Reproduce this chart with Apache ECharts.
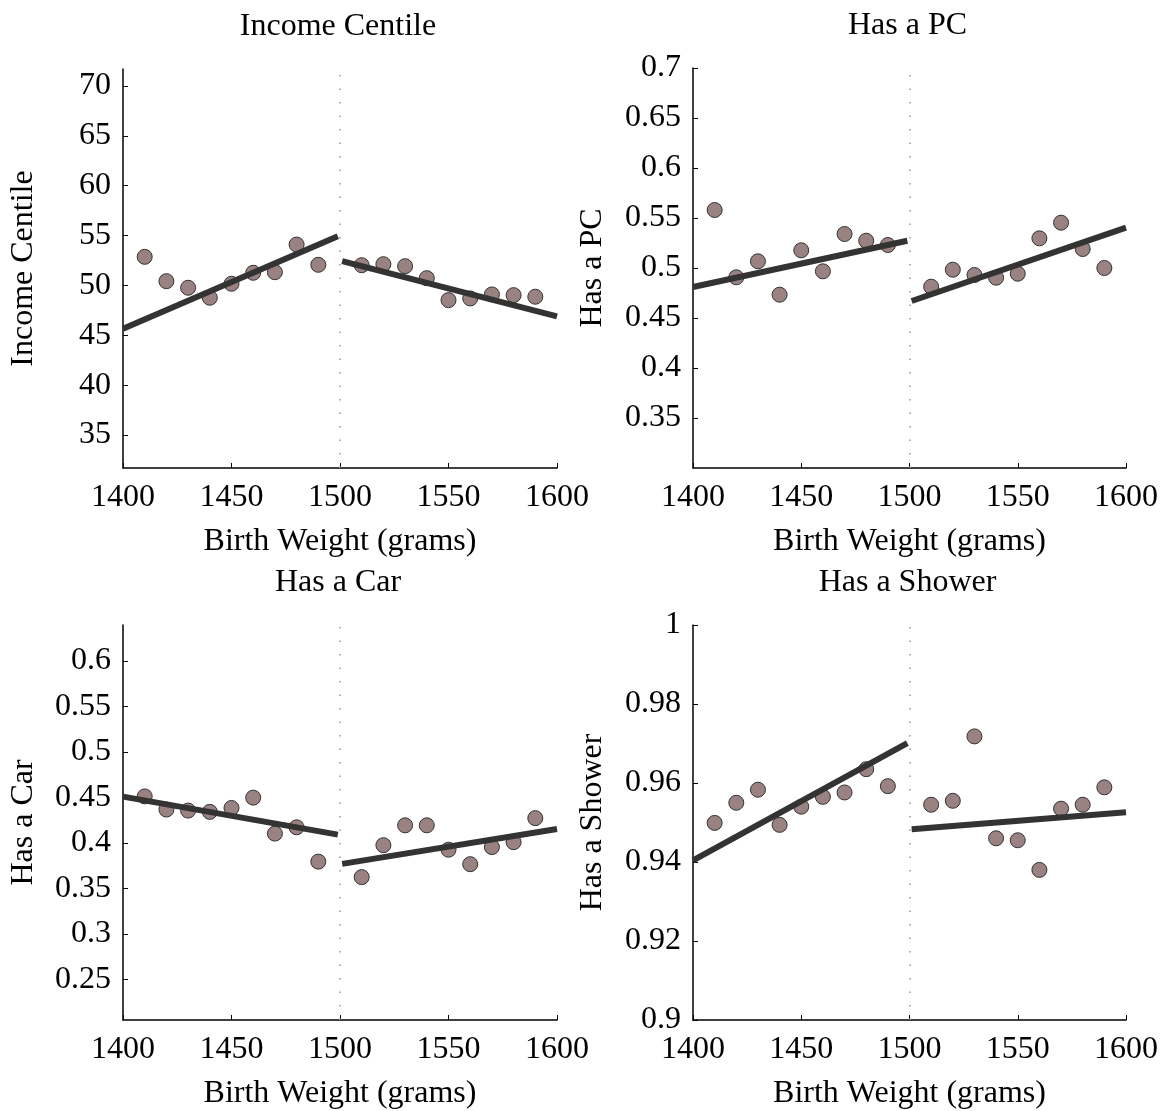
<!DOCTYPE html>
<html>
<head>
    <meta charset="UTF-8">
    <title>Birth Weight RD</title>
    <script src="https://cdn.jsdelivr.net/npm/echarts@6/dist/echarts.min.js"></script>
</head>
<body style="margin:0;background:#fff;">
<div id="main" style="width: 1163px;height:1111px;"></div>
<script type="text/javascript">
    // bins either side of the 1500 g cutoff
    var binsLeft = [1410, 1420, 1430, 1440, 1450, 1460, 1470, 1480, 1490];
    var binsRight = [1510, 1520, 1530, 1540, 1550, 1560, 1570, 1580, 1590];
    var fitXLeft = [1400, 1499];
    var fitXRight = [1501, 1600];

    // Income Centile
    var incomeLeft = [52.87, 50.43, 49.77, 48.77, 50.17, 51.27, 51.33, 54.1, 52.07];
    var incomeRight = [52.03, 52.13, 51.93, 50.73, 48.53, 48.7, 49.1, 49.03, 48.87];
    var incomeFitLeft = [45.67, 54.93];
    var incomeFitRight = [52.43, 46.9];
    var incomeTicks = [35, 40, 45, 50, 55, 60, 65, 70];

    // Has a PC
    var pcLeft = [0.558, 0.4907, 0.5067, 0.4733, 0.5177, 0.4967, 0.534, 0.5273, 0.523];
    var pcRight = [0.4813, 0.4983, 0.493, 0.4903, 0.4943, 0.5297, 0.5453, 0.519, 0.5];
    var pcFitLeft = [0.481, 0.5273];
    var pcFitRight = [0.467, 0.5403];
    var pcTicks = [0.35, 0.4, 0.45, 0.5, 0.55, 0.6, 0.65, 0.7];

    // Has a Car
    var carLeft = [0.4512, 0.4367, 0.4356, 0.4342, 0.4385, 0.4498, 0.4103, 0.4172, 0.3795];
    var carRight = [0.3625, 0.3976, 0.4194, 0.4194, 0.3926, 0.3767, 0.3955, 0.4009, 0.4273];
    var carFitLeft = [0.4509, 0.4092];
    var carFitRight = [0.377, 0.4154];
    var carTicks = [0.25, 0.3, 0.35, 0.4, 0.45, 0.5, 0.55, 0.6];

    // Has a Shower
    var showerLeft = [0.9499, 0.955, 0.9583, 0.9494, 0.954, 0.9565, 0.9576, 0.9635, 0.9592];
    var showerRight = [0.9545, 0.9555, 0.9718, 0.946, 0.9455, 0.938, 0.9535, 0.9545, 0.9589];
    var showerFitLeft = [0.9404, 0.9701];
    var showerFitRight = [0.9483, 0.9526];
    var showerTicks = [0.9, 0.92, 0.94, 0.96, 0.98, 1];

    var FONT = 'Liberation Serif';
    var FS = 32;

    var panels = [
        {title: 'Income Centile', left: incomeLeft, right: incomeRight, fitL: incomeFitLeft, fitR: incomeFitRight,
            ticks: incomeTicks, min: 31.7, max: 71.7, grid: {left: 123, top: 69, width: 434, height: 399}},
        {title: 'Has a PC', left: pcLeft, right: pcRight, fitL: pcFitLeft, fitR: pcFitRight,
            ticks: pcTicks, min: 0.3, max: 0.7, grid: {left: 693, top: 68, width: 433, height: 400}},
        {title: 'Has a Car', left: carLeft, right: carRight, fitL: carFitLeft, fitR: carFitRight,
            ticks: carTicks, min: 0.2055, max: 0.6395, grid: {left: 123, top: 625, width: 434, height: 399}},
        {title: 'Has a Shower', left: showerLeft, right: showerRight, fitL: showerFitLeft, fitR: showerFitRight,
            ticks: showerTicks, min: 0.9, max: 1, grid: {left: 693, top: 625, width: 433, height: 399}}
    ];

    function pairs(xs, ys) {
        return xs.map(function (x, i) { return [x, ys[i]]; });
    }

    var option = {
        backgroundColor: '#ffffff',
        animation: false,
        title: [],
        grid: [],
        xAxis: [],
        yAxis: [],
        series: []
    };

    panels.forEach(function (p, i) {
        option.grid.push(p.grid);
        option.title.push({
            text: p.title,
            left: p.grid.left + p.grid.width / 2 - 7,
            top: p.grid.top - 63,
            textAlign: 'center',
            textStyle: {fontFamily: FONT, fontSize: FS, fontWeight: 'normal', color: '#000'}
        });
        option.xAxis.push({
            type: 'value', gridIndex: i, min: 1400, max: 1600, interval: 50,
            name: 'Birth Weight (grams)', nameLocation: 'middle', nameGap: 58,
            nameTextStyle: {fontFamily: FONT, fontSize: FS, color: '#000'},
            axisLine: {onZero: false, lineStyle: {color: '#000', width: 1.5}},
            axisTick: {inside: true, length: 5, lineStyle: {color: '#000'}},
            axisLabel: {fontFamily: FONT, fontSize: FS, color: '#000', margin: 14,
                formatter: function (v) { return String(v); }},
            splitLine: {show: false}
        });
        option.yAxis.push({
            type: 'value', gridIndex: i, min: p.min, max: p.max,
            name: p.title, nameLocation: 'middle', nameGap: i % 2 ? 84 : 83,
            nameTextStyle: {fontFamily: FONT, fontSize: FS, color: '#000'},
            axisLine: {onZero: false, lineStyle: {color: '#000', width: 1.5}},
            axisTick: {inside: true, length: 5, customValues: p.ticks, lineStyle: {color: '#000'}},
            axisLabel: {fontFamily: FONT, fontSize: FS, color: '#000', margin: 12, customValues: p.ticks,
                formatter: function (v) { return String(v); }},
            splitLine: {show: false}
        });
        var dot = {
            type: 'scatter', xAxisIndex: i, yAxisIndex: i, symbolSize: 15,
            itemStyle: {color: '#9a8282', borderColor: '#333', borderWidth: 1, opacity: 1}
        };
        var fit = {
            type: 'line', xAxisIndex: i, yAxisIndex: i, symbol: 'none', z: 3,
            lineStyle: {color: '#333333', width: 6, cap: 'butt'}
        };
        option.series.push(Object.assign({}, dot, {
            data: pairs(binsLeft, p.left),
            markLine: {
                silent: true, symbol: 'none', label: {show: false},
                lineStyle: {color: '#999', type: [1.5, 12], width: 1.5},
                data: [{xAxis: 1500}]
            }
        }));
        option.series.push(Object.assign({}, dot, {data: pairs(binsRight, p.right)}));
        option.series.push(Object.assign({}, fit, {data: pairs(fitXLeft, p.fitL)}));
        option.series.push(Object.assign({}, fit, {data: pairs(fitXRight, p.fitR)}));
    });

    var myChart = echarts.init(document.getElementById('main'));
    myChart.setOption(option);
</script>
</body>
</html>
